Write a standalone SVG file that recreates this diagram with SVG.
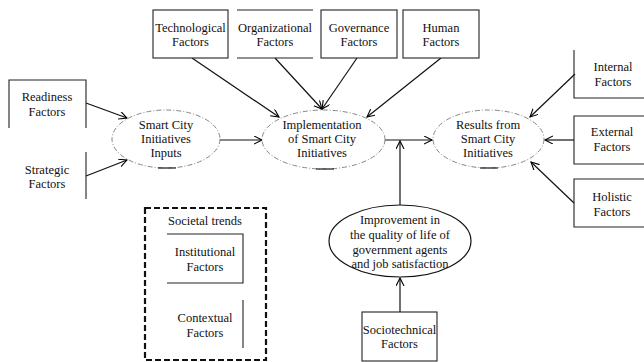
<svg xmlns="http://www.w3.org/2000/svg" width="644" height="362" viewBox="0 0 644 362">
<defs>
<marker id="arr" markerWidth="10" markerHeight="10" refX="8" refY="4" orient="auto" markerUnits="userSpaceOnUse">
<path d="M0,0 L8,4 L0,8" fill="none" stroke="#000" stroke-width="1.1"/>
</marker>
<style>
text{font-family:"Liberation Serif","Times New Roman",serif;font-size:12.5px;fill:#111;text-anchor:middle}
.b{fill:#fff;stroke:#222;stroke-width:1.1}
.ln{fill:none;stroke:#222;stroke-width:1.1}
.de{fill:#fff;stroke:#777;stroke-width:0.9;stroke-dasharray:5 2 1 2}
.bar{stroke:#222;stroke-width:1.2}
.c{fill:none;stroke:#111;stroke-width:1.2;marker-end:url(#arr)}
.tr{fill:none;stroke:#111;stroke-width:2.2;stroke-dasharray:6 3}
</style>
</defs>
<rect width="644" height="362" fill="#fff"/>

<g id="connectors">
<line class="c" x1="192" y1="58" x2="279" y2="117"/>
<line class="c" x1="275" y1="58" x2="322" y2="109"/>
<line class="c" x1="357" y1="58" x2="322" y2="109"/>
<line class="c" x1="441" y1="58" x2="367" y2="117"/>
<line class="c" x1="86" y1="103" x2="127" y2="118"/>
<line class="c" x1="86" y1="176" x2="127" y2="160"/>
<line class="c" x1="220" y1="140" x2="262" y2="140"/>
<line class="c" x1="385" y1="140" x2="432" y2="140"/>
<line class="c" x1="400" y1="205" x2="400" y2="141"/>
<line class="c" x1="400" y1="312" x2="400" y2="278"/>
<line class="c" x1="575" y1="74" x2="530" y2="117"/>
<line class="c" x1="574" y1="140" x2="545" y2="140"/>
<line class="c" x1="574" y1="203" x2="531" y2="162"/>
</g>

<g id="technological">
<rect class="b" x="153" y="10" width="75" height="48"/>
<text x="190.5" y="32">Technological</text><text x="190.5" y="46">Factors</text>
</g>
<g id="organizational">
<path class="ln" d="M237,10 H313 M237,58 H313"/>
<text x="275" y="32">Organizational</text><text x="275" y="46">Factors</text>
</g>
<g id="governance">
<rect class="b" x="321" y="10" width="76" height="48"/>
<text x="359" y="32">Governance</text><text x="359" y="46">Factors</text>
</g>
<g id="human">
<rect class="b" x="403" y="10" width="76" height="48"/>
<text x="441" y="32">Human</text><text x="441" y="46">Factors</text>
</g>

<g id="readiness">
<path class="ln" d="M9,128 V80 H86 V128"/>
<text x="47" y="101">Readiness</text><text x="47" y="116">Factors</text>
</g>
<g id="strategic">
<path class="ln" d="M86,152 V199"/>
<text x="47" y="174">Strategic</text><text x="47" y="188">Factors</text>
</g>

<g id="inputs">
<ellipse class="de" cx="166" cy="139" rx="54" ry="29"/>
<line class="bar" x1="158" y1="168" x2="176" y2="168"/>
<text x="166" y="129">Smart City</text><text x="166" y="143">Initiatives</text><text x="166" y="157">Inputs</text>
</g>
<g id="implementation">
<ellipse class="de" cx="323.5" cy="139.5" rx="61.5" ry="29.5"/>
<line class="bar" x1="316" y1="169" x2="334" y2="169"/>
<text x="322" y="129">Implementation</text><text x="322" y="143">of Smart City</text><text x="322" y="157">Initiatives</text>
</g>
<g id="results">
<ellipse class="de" cx="488.5" cy="139" rx="55.5" ry="29"/>
<line class="bar" x1="480" y1="168" x2="498" y2="168"/>
<text x="488" y="129">Results from</text><text x="488" y="143">Smart City</text><text x="488" y="157">Initiatives</text>
</g>

<g id="internal">
<path class="ln" d="M574,50 V98 H644"/>
<text x="613" y="71">Internal</text><text x="613" y="86">Factors</text>
</g>
<g id="external">
<path class="ln" d="M644,116 H574 V164 H644"/>
<text x="612" y="136">External</text><text x="612" y="151">Factors</text>
</g>
<g id="holistic">
<path class="ln" d="M644,179 H574 V227 H644"/>
<text x="612" y="201">Holistic</text><text x="612" y="216">Factors</text>
</g>

<g id="improvement">
<ellipse cx="400" cy="241" rx="71" ry="36" fill="#fff" stroke="#111" stroke-width="1.2"/>
<text x="400" y="224">Improvement in</text><text x="400" y="239">the quality of life of</text><text x="400" y="254">government agents</text><text x="400" y="268">and job satisfaction</text>
</g>
<g id="sociotechnical">
<rect class="b" x="362" y="312" width="75" height="49"/>
<text x="399.5" y="334">Sociotechnical</text><text x="399.5" y="348">Factors</text>
</g>

<g id="societal-trends">
<rect class="tr" x="145" y="208" width="121" height="152"/>
<text x="205" y="225">Societal trends</text>
</g>
<g id="institutional">
<path class="ln" d="M167,234 H243 V283 H167"/>
<text x="205" y="256">Institutional</text><text x="205" y="271">Factors</text>
</g>
<g id="contextual">
<path class="ln" d="M243,300 V348"/>
<text x="205" y="322">Contextual</text><text x="205" y="337">Factors</text>
</g>
</svg>
